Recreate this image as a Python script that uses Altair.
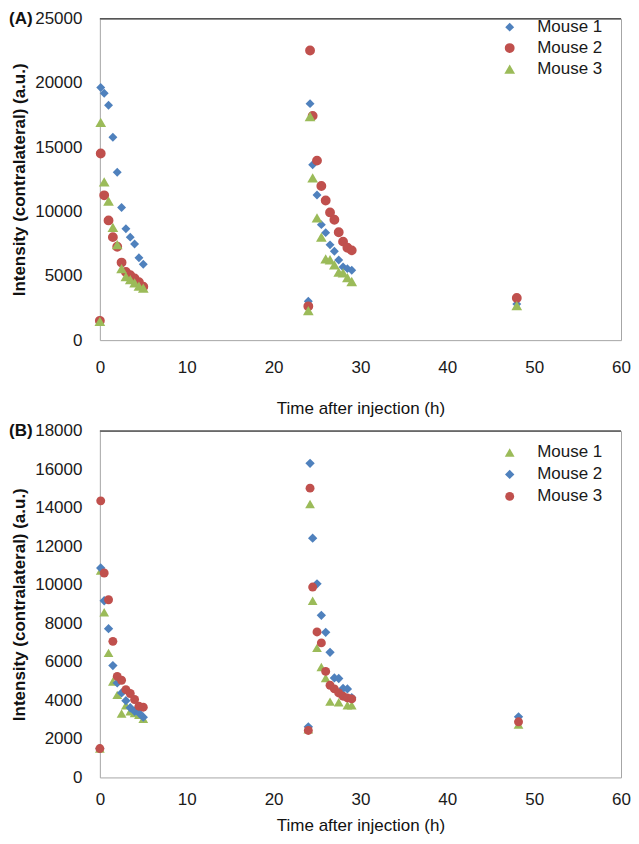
import altair as alt
import pandas as pd

# ---------------- data ----------------
panel_labels = ["(A)", "(B)"]
mice = ["Mouse 1", "Mouse 2", "Mouse 3"]

t_s1 = [0.0, 0.1, 0.5, 1.0, 1.5, 2.0, 2.5, 3.0, 3.5, 4.0, 4.5, 5.0]
t_s2 = [24.0, 24.2, 24.5, 25.0, 25.5, 26.0, 26.5, 27.0, 27.5, 28.0, 28.5, 29.0]
t_s2_short = [24.0, 24.2, 24.5, 25.0, 25.5, 26.0, 26.5, 27.5, 28.5, 29.0]
t_48_a = [48.0]
t_48_b = [48.2]

# Panel A
a_m1_s1 = [1550, 19650, 19200, 18270, 15770, 13060, 10310, 8660, 8010, 7480, 6400, 5900]
a_m1_s2 = [3030, 18390, 13640, 11290, 8980, 8360, 7410, 6910, 6230, 5680, 5560, 5430]
a_m1_48 = [2800]
a_m2_s1 = [1500, 14510, 11260, 9310, 8010, 7260, 6030, 5300, 5050, 4800, 4500, 4150]
a_m2_s2 = [2630, 22520, 17440, 13960, 11990, 10860, 9930, 9360, 8390, 7660, 7180, 6980]
a_m2_48 = [3280]
a_m3_s1 = [1450, 16940, 12310, 10810, 8760, 7430, 5560, 4930, 4700, 4450, 4200, 4050]
a_m3_s2 = [2300, 17390, 12610, 9510, 8010, 6310, 6250, 5860, 5280, 5230, 4860, 4560]
a_m3_48 = [2680]

# Panel B
b_m1_s1 = [1500, 10750, 8580, 6470, 4980, 4290, 3320, 3750, 3440, 3350, 3260, 3050]
b_m1_s2 = [2500, 14210, 9180, 6730, 5740, 5170, 3940, 3910, 3750, 3750]
b_m1_48 = [2750]
b_m2_s1 = [1500, 10880, 9180, 7730, 5810, 4910, 4390, 3990, 3620, 3440, 3350, 3130]
b_m2_s2 = [2630, 16320, 12430, 10060, 8420, 7540, 6500, 5170, 5140, 4620, 4600, 4150]
b_m2_48 = [3150]
b_m3_s1 = [1500, 14370, 10620, 9230, 7070, 5250, 5050, 4560, 4360, 4050, 3700, 3650]
b_m3_s2 = [2440, 15030, 9890, 7560, 6990, 5510, 4790, 4600, 4390, 4220, 4130, 4080]
b_m3_48 = [2890]

y_ticks_a = [0, 5000, 10000, 15000, 20000, 25000]
y_ticks_b = [0, 2000, 4000, 6000, 8000, 10000, 12000, 14000, 16000, 18000]
x_ticks = [0, 10, 20, 30, 40, 50, 60]


def rows(mouse, times, vals):
    return [{"mouse": mouse, "t": t, "v": v} for t, v in zip(times, vals)]


df_a = pd.DataFrame(
    rows("Mouse 1", t_s1, a_m1_s1) + rows("Mouse 1", t_s2, a_m1_s2) + rows("Mouse 1", t_48_a, a_m1_48)
    + rows("Mouse 2", t_s1, a_m2_s1) + rows("Mouse 2", t_s2, a_m2_s2) + rows("Mouse 2", t_48_a, a_m2_48)
    + rows("Mouse 3", t_s1, a_m3_s1) + rows("Mouse 3", t_s2, a_m3_s2) + rows("Mouse 3", t_48_a, a_m3_48)
)
df_b = pd.DataFrame(
    rows("Mouse 1", t_s1, b_m1_s1) + rows("Mouse 1", t_s2_short, b_m1_s2) + rows("Mouse 1", t_48_b, b_m1_48)
    + rows("Mouse 2", t_s1, b_m2_s1) + rows("Mouse 2", t_s2, b_m2_s2) + rows("Mouse 2", t_48_b, b_m2_48)
    + rows("Mouse 3", t_s1, b_m3_s1) + rows("Mouse 3", t_s2, b_m3_s2) + rows("Mouse 3", t_48_b, b_m3_48)
)

BLUE, RED, GREEN = "#4F81BD", "#C0504D", "#9BBB59"
FONT = "Liberation Sans"
W = 522
HA = 322
HB = 347


def panel(df, label, ymax, yticks, shapes, colors, sizes, h, lab_pad, title_pad, leg_y, row_pad):
    x = alt.X("t:Q", scale=alt.Scale(domain=[0, 60], nice=False),
              axis=alt.Axis(values=x_ticks, title="Time after injection (h)", format="d",
                            labelPadding=lab_pad, titlePadding=title_pad, labelFlush=False,
                            titleFontWeight="normal"))
    y = alt.Y("v:Q", scale=alt.Scale(domain=[0, ymax], nice=False),
              axis=alt.Axis(values=yticks, title="Intensity (contralateral) (a.u.)", format="d",
                            labelPadding=18, titlePadding=6, titleFontWeight="bold",
                            labelFlush=False))
    leg = alt.Legend(title=None, orient="none", legendX=402, legendY=leg_y,
                     labelFontSize=17, labelFont=FONT, labelOffset=19, labelColor="#1a1a1a",
                     symbolSize=70, rowPadding=row_pad, padding=0)
    pts = alt.Chart(df).mark_point(filled=True, opacity=1).encode(
        x=x, y=y,
        shape=alt.Shape("mouse:N", scale=alt.Scale(domain=mice, range=shapes), legend=leg),
        color=alt.Color("mouse:N", scale=alt.Scale(domain=mice, range=colors), legend=leg),
        size=alt.Size("mouse:N", scale=alt.Scale(domain=mice, range=sizes), legend=None),
    )
    top = alt.Chart(pd.DataFrame({"k": [0]})).mark_rule(color="#555555", strokeWidth=1.5).encode(
        x=alt.value(0), x2=alt.value(W), y=alt.value(0)
    )
    lab = alt.Chart(pd.DataFrame({"label": [label]})).mark_text(
        align="left", baseline="middle", fontSize=17, fontWeight="bold", font=FONT, color="#111111"
    ).encode(x=alt.value(-91), y=alt.value(0), text="label:N")
    return alt.layer(top, pts, lab).properties(width=W, height=h)


chart_a = panel(df_a, panel_labels[0], 25000, y_ticks_a,
                ["diamond", "circle", "triangle-up"], [BLUE, RED, GREEN], [80, 115, 95],
                HA, 19, 25, 0, 3)
chart_b = panel(df_b, panel_labels[1], 18000, y_ticks_b,
                ["triangle-up", "diamond", "circle"], [GREEN, BLUE, RED], [95, 80, 115],
                HB, 14, 10, 13, 4)

chart = alt.vconcat(chart_a, chart_b, spacing=4).resolve_scale(
    color="independent", shape="independent", size="independent"
).resolve_legend(color="independent", shape="independent").properties(
    padding={"left": 0, "top": 0, "right": 0, "bottom": 0}
).configure_view(stroke="#a6a6a6", strokeWidth=1).configure_axis(
    grid=False, ticks=False, tickSize=0, domain=False,
    labelFont=FONT, labelFontSize=17, labelColor="#1a1a1a",
    titleFont=FONT, titleFontSize=17, titleColor="#111111"
)

chart.save("out.html", embed_options={"renderer": "svg", "actions": False})
